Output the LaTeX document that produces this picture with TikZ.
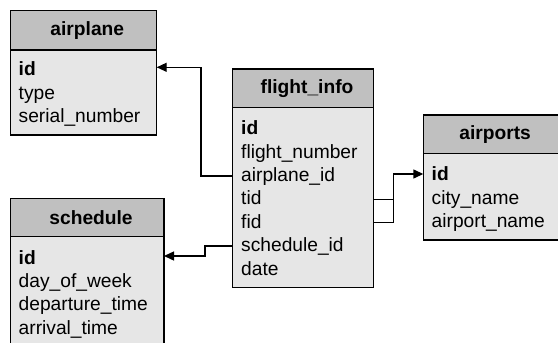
\documentclass[tikz,border=0pt]{standalone}
\usepackage{fontspec}
\setmainfont{Liberation Sans}
\usetikzlibrary{arrows.meta}
\definecolor{hdrgray}{RGB}{192,192,192}
\definecolor{bodygray}{RGB}{230,230,230}
\tikzset{
  hdr/.style={draw=black, fill=hdrgray, line width=1.4pt, anchor=north west, inner sep=0pt, outer sep=0pt},
  bdy/.style={draw=black, fill=bodygray, line width=1.4pt, anchor=north west, inner sep=0pt, outer sep=0pt},
  ttl/.style={font=\bfseries\fontsize{19.2}{22}\selectfont, inner sep=0pt},
  fld/.style={font=\fontsize{19.2}{22}\selectfont, anchor=west, inner sep=0pt, text height=13.7pt, text depth=2.3pt},
  fk/.style={line width=1.4pt, -{Triangle[length=10pt,width=9pt]}},
  lnk/.style={line width=1.4pt}
}
\begin{document}
\begin{tikzpicture}[x=1pt,y=-1pt]
\useasboundingbox (0,0) rectangle (558,343);
% airplane
\node[hdr, minimum width=146pt, minimum height=39.3pt] (aph) at (10.7,10.7) {};
\node[bdy, minimum width=146pt, minimum height=85pt] (apb) at (aph.south west) {};
\node[ttl] (apt) at ([xshift=3.6pt]aph.center) {airplane};
\node[fld] (ap1) at (18.5,70) {\textbf{id}};
\node[fld] (ap2) at (18.5,93.3) {type};
\node[fld] (ap3) at (18.5,116.6) {serial\_number};
% flight_info
\node[hdr, minimum width=140.6pt, minimum height=38.7pt] (fih) at (232.7,69) {};
\node[bdy, minimum width=140.6pt, minimum height=180pt] (fib) at (fih.south west) {};
\node[ttl] (fit) at ([xshift=4pt]fih.center) {flight\_info};
\node[fld] (fi1) at (241,129) {\textbf{id}};
\node[fld] (fi2) at (241,152.4) {flight\_number};
\node[fld] (fi3) at (241,175.8) {airplane\_id};
\node[fld] (fi4) at (241,199.2) {tid};
\node[fld] (fi5) at (241,222.6) {fid};
\node[fld] (fi6) at (241,246) {schedule\_id};
\node[fld] (fi7) at (241,269.4) {date};
% airports
\node[hdr, minimum width=135.7pt, minimum height=38.3pt] (aih) at (423.3,115) {};
\node[bdy, minimum width=135.7pt, minimum height=86.7pt] (aib) at (aih.south west) {};
\node[ttl] (ait) at ([xshift=4pt]aih.center) {airports};
\node[fld] (ai1) at (431.5,175) {\textbf{id}};
\node[fld] (ai2) at (431.5,198.4) {city\_name};
\node[fld] (ai3) at (431.5,221.8) {airport\_name};
% schedule
\node[hdr, minimum width=153.3pt, minimum height=38.4pt] (sch) at (10.7,198.3) {};
\node[bdy, minimum width=153.3pt, minimum height=115pt] (scb) at (sch.south west) {};
\node[ttl] (sct) at ([xshift=3.7pt]sch.center) {schedule};
\node[fld] (sc1) at (18.5,258.3) {\textbf{id}};
\node[fld] (sc2) at (18.5,281.7) {day\_of\_week};
\node[fld] (sc3) at (18.5,305.1) {departure\_time};
\node[fld] (sc4) at (18.5,328.5) {arrival\_time};
% connectors
\coordinate (c1) at (201,67.3);
\draw[fk] (fib.west |- fi3) -| (c1) -- (apb.east |- c1);
\coordinate (c2) at (205,256);
\draw[fk] (fib.west |- fi6) -| (c2) -- (scb.east |- c2);
\coordinate (c3) at (393.3,174);
\draw[lnk] (fib.east |- fi4) -- (c3 |- fi4);
\draw[fk] (fib.east |- fi5) -| (c3) -- (aib.west |- c3);
\end{tikzpicture}
\end{document}
